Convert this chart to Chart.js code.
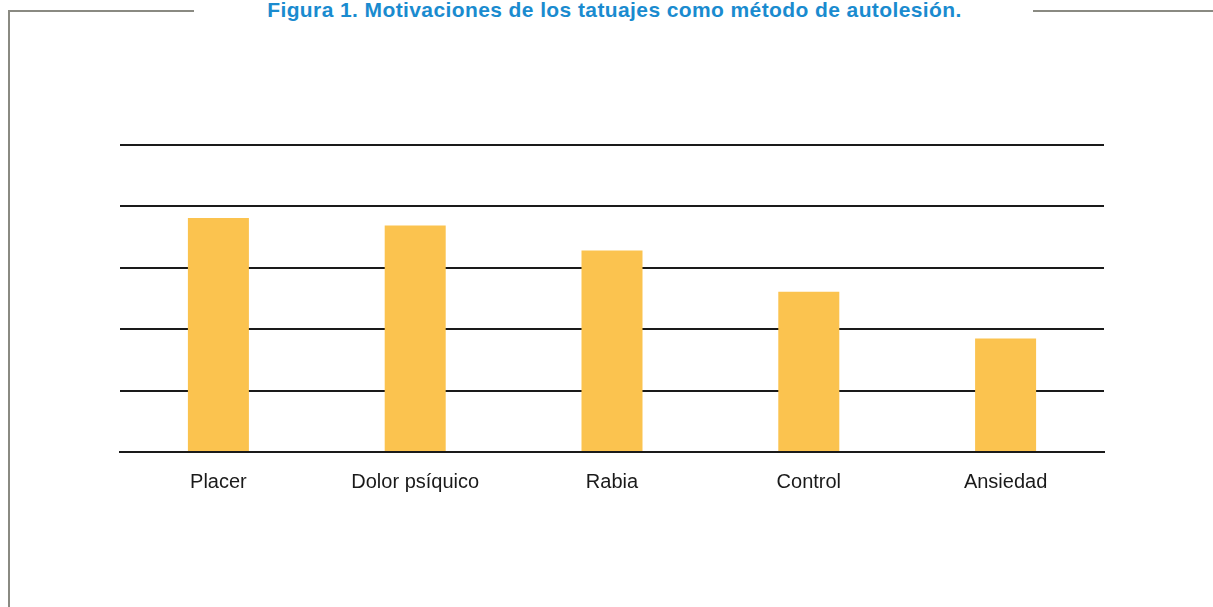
<!DOCTYPE html>
<html>
<head>
<meta charset="utf-8">
<script src="https://cdn.jsdelivr.net/npm/chart.js@4"></script>
<style>
    html, body { margin: 0; padding: 0; background: #fff; }
    #main { position: relative; width: 1213px; height: 607px; overflow: hidden; }
    #frameLeft { position: absolute; left: 8px; top: 10px; width: 186px; height: 620px; border-left: 2px solid #8a8a82; border-top: 2px solid #8a8a82; box-sizing: border-box; }
    #frameRight { position: absolute; left: 1033px; top: 10px; width: 180px; border-top: 2px solid #8a8a82; }
    #title { position: absolute; left: 0; width: 1229px; top: -1px; text-align: center; font-family: 'Liberation Sans', Arial, sans-serif; font-weight: bold; font-size: 21px; letter-spacing: 0.4px; line-height: 22px; color: #1a8bcf; white-space: nowrap; }
    #chart { position: absolute; left: 0; top: 0; width: 1213px; height: 607px; }
</style>
</head>
<body>
<div id="main">
    <div id="frameLeft"></div>
    <div id="frameRight"></div>
    <div id="title">Figura 1. Motivaciones de los tatuajes como método de autolesión.</div>
    <div id="chart"><canvas id="barChart" width="1213" height="607"></canvas></div>
</div>
<script>
const categories = ['Placer', 'Dolor psíquico', 'Rabia', 'Control', 'Ansiedad'];
const values = [38.1, 36.9, 32.8, 26.1, 18.5];
const yMax = 50;
const yStep = 10;

window.addEventListener('load', () => {
    const ctx = document.getElementById('barChart');

    new Chart(ctx, {
        type: 'bar',
        data: {
            labels: categories,
            datasets: [
                {
                    label: 'Motivaciones',
                    data: values,
                    backgroundColor: '#fbc34f',
                    borderWidth: 0,
                    barPercentage: 1,
                    categoryPercentage: 0.31,
                },
            ],
        },
        options: {
            responsive: false,
            animation: false,
            layout: {
                padding: { left: 120, right: 109, top: 145, bottom: 95 },
            },
            scales: {
                y: {
                    min: 0,
                    max: yMax,
                    ticks: { display: false, stepSize: yStep },
                    border: { display: false },
                    grid: { color: '#1a1a1a', lineWidth: 2, drawTicks: false },
                },
                x: {
                    ticks: {
                        font: { family: "'Liberation Sans', Arial, sans-serif", size: 20 },
                        color: '#1a1a1a',
                        padding: 18,
                    },
                    border: { display: true, color: '#1a1a1a', width: 2 },
                    grid: { display: false, drawTicks: false },
                },
            },
            plugins: {
                legend: { display: false },
                tooltip: { enabled: false },
            },
        },
    });
});
</script>
</body>
</html>
